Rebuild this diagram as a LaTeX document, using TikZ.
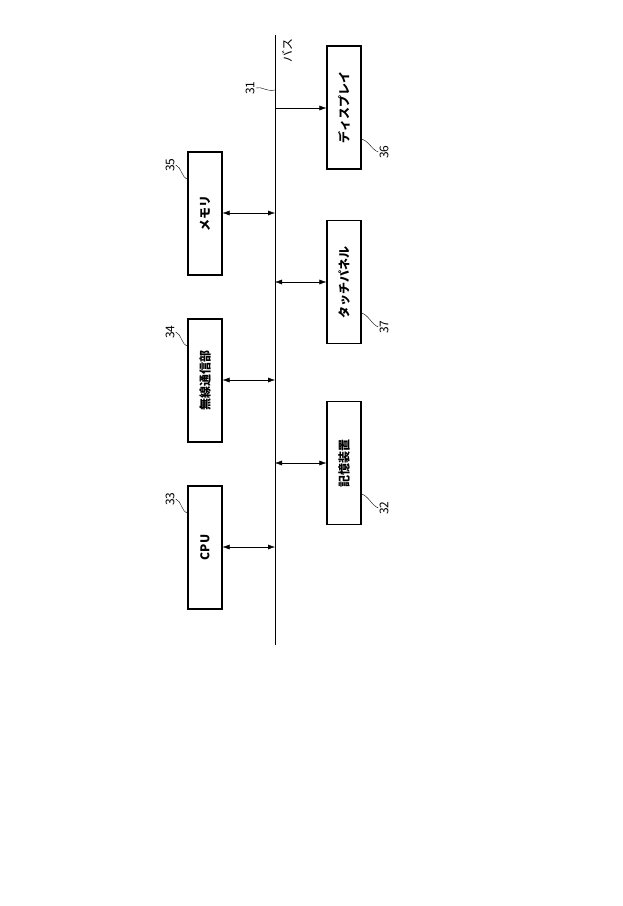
\documentclass[tikz,border=0pt]{standalone}
\usepackage{fontspec}
\setmainfont{Noto Sans CJK JP}
\usetikzlibrary{arrows.meta}
\begin{document}
\begin{tikzpicture}[x=1pt,y=-1pt,
  blk/.style={draw,line width=1.2pt,minimum width=123pt,minimum height=34pt,rotate=90,inner sep=0pt,font=\fontsize{12}{13}\selectfont\bfseries},
  num/.style={rotate=90,font=\fontsize{12}{13}\selectfont,inner sep=1pt},
  lead/.style={thin},
  arr/.style={-{Latex[length=7pt,width=5pt]},thin}]
\useasboundingbox (0,0) rectangle (622,906);
\coordinate (bt) at (275,35); \coordinate (bb) at (275,645);
\draw[thin] (bt) -- (bb);
\node[blk] (cpu) at (205,547.5) {CPU};
\node[blk] (wl) at (205,380.5) {無線通信部};
\node[blk] (mem) at (205,213.5) {メモリ};
\node[blk] (disp) at (344,107.5) {ディスプレイ};
\node[blk] (tp) at (344,282) {タッチパネル};
\node[blk] (st) at (344,463) {記憶装置};
\foreach \n/\y in {cpu/547, wl/380, mem/213}{
  \coordinate (b\n) at (275,\y);
  \draw[arr,{Latex[length=7pt,width=5pt]}-{Latex[length=7pt,width=5pt]}] (\n.south |- b\n) -- (b\n);}
\foreach \n/\y in {tp/282, st/463}{
  \coordinate (b\n) at (275,\y);
  \draw[arr,{Latex[length=7pt,width=5pt]}-{Latex[length=7pt,width=5pt]}] (b\n) -- (\n.north |- b\n);}
\coordinate (bdisp) at (275,108);
\draw[arr] (bdisp) -- (disp.north |- bdisp);
% labels
\node[num] (l33) at (170,499) {33};
\node[num] (l34) at (170,332) {34};
\node[num] (l35) at (170,165) {35};
\node[num] (l36) at (384,152) {36};
\node[num] (l37) at (384,327) {37};
\node[num] (l32) at (384,508) {32};
\node[num] (l31) at (250,88) {31};
\node[num] (bus) at (287,50) {バス};
\coordinate (c33) at (188,513); \coordinate (c34) at (188,346); \coordinate (c35) at (188,179);
\coordinate (c36) at (361,139); \coordinate (c37) at (361,313); \coordinate (c32) at (361,494);
\draw[lead] (l33.south) .. controls (182,501) and (181,512) .. (c33);
\draw[lead] (l34.south) .. controls (182,334) and (181,345) .. (c34);
\draw[lead] (l35.south) .. controls (182,167) and (181,178) .. (c35);
\draw[lead] (l36.north) .. controls (372,150) and (368,140) .. (c36);
\draw[lead] (l37.north) .. controls (372,325) and (368,314) .. (c37);
\draw[lead] (l32.north) .. controls (372,506) and (368,495) .. (c32);
\coordinate (b31) at (275,90);
\draw[lead] (l31.south) .. controls (262,86) and (266,92) .. (b31);
\end{tikzpicture}
\end{document}
